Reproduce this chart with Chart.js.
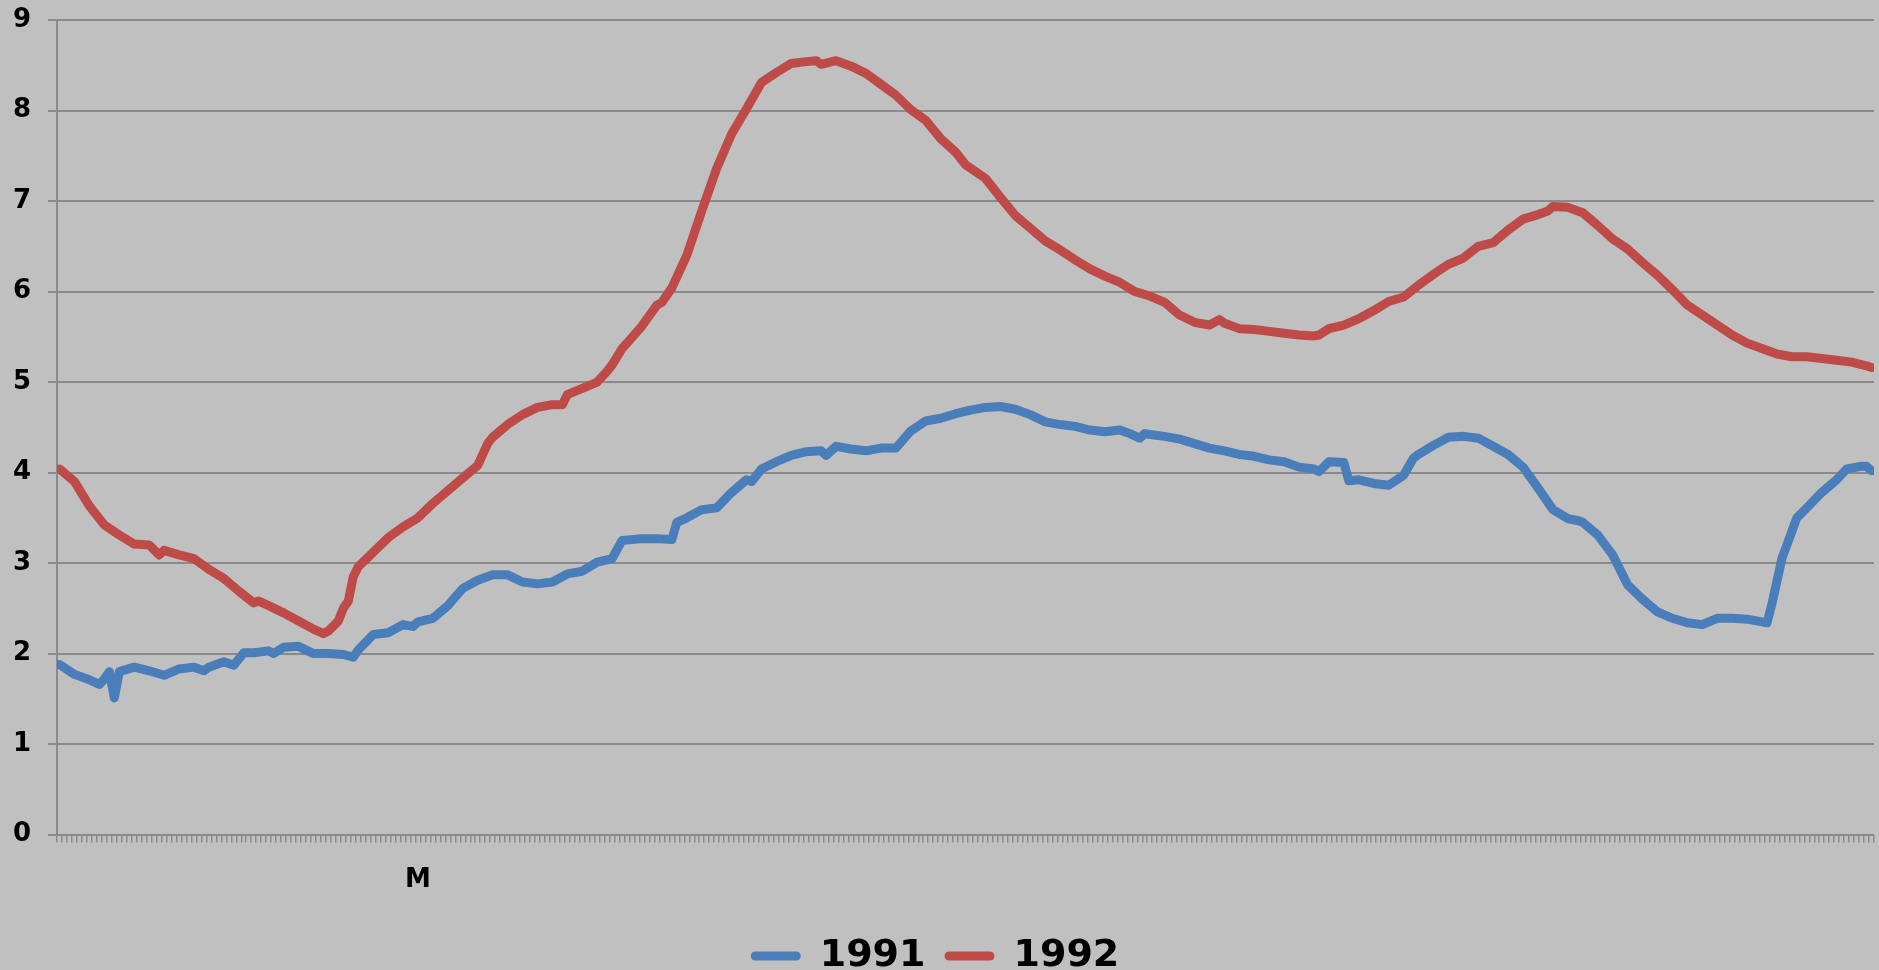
<!DOCTYPE html>
<html>
<head>
<meta charset="utf-8">
<script src="https://cdn.jsdelivr.net/npm/chart.js@4.4.0/dist/chart.umd.min.js"></script>
<style>
  html, body { margin: 0; padding: 0; background: #c0c0c0; }
  #wrap { width: 1879px; height: 970px; }
</style>
</head>
<body>
<div id="wrap"><canvas id="rateChart"></canvas></div>
<script>
// day of year (0 based) and value
const days1991 = [0,3,6,8,9,10,11,12,15,18,21,24,27,29,30,33,35,37,39,42,43,45,48,51,54,57,59,60,
  63,66,69,71,72,75,78,81,84,87,90,93,96,99,102,105,108,111,113,117,120,
  123,124,126,129,132,135,138,139,141,144,147,150,153,154,156,159,162,165,168,171,174,177,180,
  183,186,189,192,195,198,201,204,207,210,213,215,217,218,219,222,225,228,231,234,237,240,243,
  246,249,252,253,255,258,259,261,264,267,270,272,273,276,279,282,285,288,291,294,297,300,303,305,
  306,309,312,315,318,321,324,327,330,333,336,339,342,343,344,345,346,348,349,351,354,357,359,362,363,364];
const rate1991 = [1.88,1.77,1.71,1.66,1.72,1.80,1.51,1.80,1.85,1.81,1.76,1.83,1.85,1.81,1.85,1.91,1.87,2.01,2.01,2.03,2.00,2.07,2.08,2.00,2.00,1.99,1.96,2.04,
  2.21,2.23,2.32,2.30,2.35,2.39,2.53,2.72,2.81,2.87,2.87,2.79,2.77,2.79,2.88,2.91,3.01,3.05,3.25,3.27,3.27,
  3.26,3.45,3.50,3.59,3.61,3.78,3.92,3.90,4.04,4.12,4.19,4.23,4.24,4.19,4.29,4.26,4.24,4.27,4.27,4.46,4.57,4.60,4.65,
  4.69,4.72,4.73,4.70,4.64,4.56,4.53,4.51,4.47,4.45,4.47,4.43,4.38,4.43,4.42,4.40,4.37,4.32,4.27,4.24,4.20,4.18,4.14,
  4.12,4.06,4.04,4.01,4.12,4.11,3.91,3.92,3.88,3.86,3.97,4.16,4.20,4.30,4.39,4.40,4.38,4.29,4.20,4.06,3.83,3.59,3.49,3.47,
  3.45,3.31,3.09,2.76,2.60,2.46,2.39,2.34,2.32,2.39,2.39,2.38,2.35,2.34,2.55,2.80,3.05,3.35,3.50,3.61,3.78,3.92,4.04,4.07,4.07,4.02];

const days1992 = [0,3,6,9,12,15,18,20,21,24,27,30,33,36,39,40,42,45,48,51,53,54,56,57,58,59,60,
  63,66,69,72,75,78,81,84,86,87,90,93,96,99,101,102,105,108,110,111,113,114,117,120,
  121,123,126,129,132,135,138,141,144,147,150,152,153,156,159,162,165,168,171,174,177,180,182,
  186,189,192,195,198,201,204,207,210,213,216,219,222,225,228,231,233,234,237,240,243,
  246,249,252,253,255,258,261,264,267,270,273,276,279,282,285,288,291,294,297,299,300,303,305,
  306,309,312,315,318,321,324,327,330,333,336,339,342,345,348,351,354,357,360,363,364];
const rate1992 = [4.04,3.90,3.63,3.42,3.31,3.21,3.20,3.09,3.14,3.09,3.05,2.93,2.83,2.69,2.56,2.58,2.53,2.45,2.36,2.27,2.22,2.25,2.36,2.50,2.58,2.85,2.96,
  3.12,3.28,3.40,3.50,3.66,3.80,3.94,4.08,4.32,4.39,4.53,4.64,4.72,4.75,4.75,4.86,4.93,5.00,5.12,5.19,5.37,5.43,5.62,5.85,
  5.88,6.04,6.40,6.89,7.36,7.74,8.02,8.31,8.42,8.52,8.54,8.55,8.51,8.55,8.49,8.41,8.29,8.17,8.01,7.89,7.69,7.54,7.40,
  7.25,7.04,6.84,6.70,6.56,6.46,6.35,6.25,6.17,6.10,6.00,5.95,5.88,5.74,5.66,5.63,5.69,5.65,5.59,5.58,5.56,
  5.54,5.52,5.51,5.52,5.59,5.63,5.70,5.79,5.89,5.94,6.07,6.19,6.30,6.37,6.50,6.54,6.68,6.80,6.85,6.89,6.94,6.93,6.89,
  6.87,6.73,6.58,6.47,6.32,6.18,6.02,5.85,5.74,5.63,5.52,5.43,5.37,5.31,5.28,5.28,5.26,5.24,5.22,5.18,5.16];

// the only label shown on the x axis
const xLabelDays = [72];
const xLabels = ['M'];

const toPoints = (days, vals) => days.map((d, i) => ({ x: d + 0.5, y: vals[i] }));

const font = 'DejaVu Sans, Verdana, sans-serif';
const gridColor = '#8a8a8a';

var ctx = document.getElementById('rateChart').getContext('2d');
var rateChart = new Chart(ctx, {
  type: 'line',
  data: {
    datasets: [
      {
        label: '1991',
        data: toPoints(days1991, rate1991),
        borderColor: '#4a7ebb',
        backgroundColor: '#4a7ebb',
        borderWidth: 9,
        pointRadius: 0,
        borderJoinStyle: 'round',
        borderCapStyle: 'round'
      },
      {
        label: '1992',
        data: toPoints(days1992, rate1992),
        borderColor: '#be4b48',
        backgroundColor: '#be4b48',
        borderWidth: 9,
        pointRadius: 0,
        borderJoinStyle: 'round',
        borderCapStyle: 'round'
      }
    ]
  },
  options: {
    responsive: true,
    maintainAspectRatio: false,
    animation: false,
    layout: { padding: { top: 20, right: 5, left: -4, bottom: -15 } },
    plugins: {
      tooltip: { enabled: false },
      legend: {
        position: 'bottom',
        labels: {
          color: '#000',
          font: { family: font, size: 38, weight: 'bold' },
          boxWidth: 50,
          boxHeight: 9,
          useBorderRadius: true,
          borderRadius: 4.5,
          padding: 19,
          generateLabels: (chart) => Chart.defaults.plugins.legend.labels.generateLabels(chart)
            .map(item => Object.assign(item, { lineWidth: 0 }))
        }
      }
    },
    scales: {
      x: {
        type: 'linear',
        min: 0,
        max: 365,
        grid: { drawOnChartArea: false, color: gridColor, lineWidth: 1.5, tickLength: 8 },
        border: { color: gridColor, width: 2 },
        ticks: {
          stepSize: 1,
          autoSkip: false,
          maxRotation: 0,
          padding: 0,
          labelOffset: 2.5,
          color: '#000',
          font: { family: font, size: 26, weight: 'bold', lineHeight: 2.9 },
          callback: (v) => {
            const i = xLabelDays.indexOf(v);
            return i >= 0 ? xLabels[i] : '';
          }
        }
      },
      y: {
        min: 0,
        max: 9,
        grid: { color: gridColor, lineWidth: 2, tickLength: 9 },
        border: { color: gridColor, width: 2 },
        ticks: {
          stepSize: 1,
          padding: 17,
          color: '#000',
          font: { family: font, size: 26, weight: 'bold', lineHeight: 0.2 }
        }
      }
    }
  }
});
</script>
</body>
</html>
